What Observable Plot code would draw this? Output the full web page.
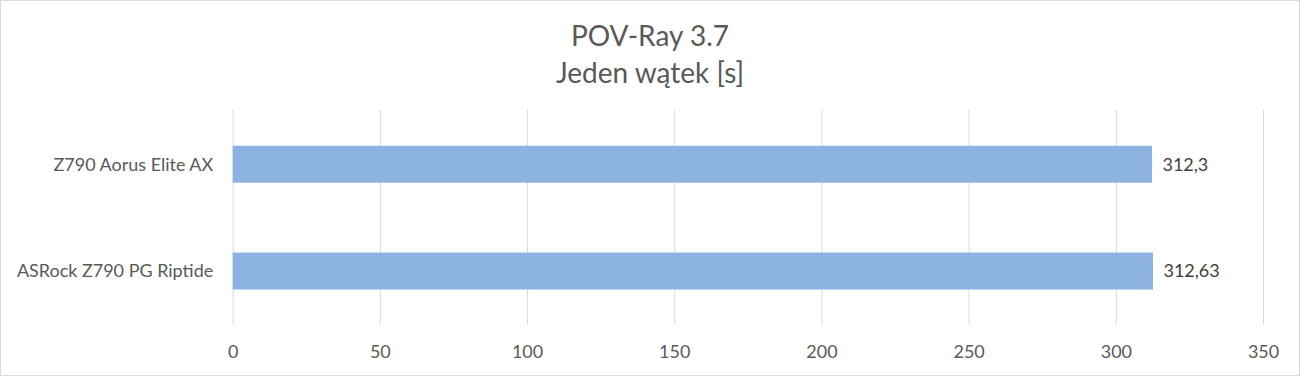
<!DOCTYPE html>
<html>
<head>
<meta charset="utf-8">
<script src="https://cdn.jsdelivr.net/npm/d3@7"></script>
<script src="https://cdn.jsdelivr.net/npm/@observablehq/plot@0.6"></script>
<style>
  html, body { margin: 0; padding: 0; background: #fff; }
  #chart { position: relative; width: 1300px; height: 376px; box-sizing: border-box; border: 1px solid #d9d9d9; overflow: hidden; font-family: Lato, "Noto Sans", sans-serif; }
  .t { position: absolute; left: 0; width: 1298px; text-align: center; color: #595959; font-size: 28px; line-height: 1; }
  svg { position: absolute; left: -1px; top: -1px; }
</style>
</head>
<body>
<div id="chart">
  <div class="t" style="top:20px">POV-Ray 3.7</div>
  <div class="t" style="top:57px">Jeden wątek [s]</div>
</div>
<script>
const boards = ["Z790 Aorus Elite AX", "ASRock Z790 PG Riptide"];
const times = [312.3, 312.63];
const xTicks = [0, 50, 100, 150, 200, 250, 300, 350];

const data = boards.map((b, i) => ({board: b, time: times[i]}));
const fmt = v => String(v).replace(".", ",");

const plot = Plot.plot({
  width: 1300,
  height: 376,
  marginTop: 110,
  marginBottom: 51,
  marginLeft: 233,
  marginRight: 35,
  style: {fontFamily: "Lato, 'Noto Sans', sans-serif", fontSize: "18px", color: "#595959", background: "transparent"},
  x: {domain: [0, 350], ticks: xTicks, tickSize: 0, tickPadding: 20, label: null},
  y: {domain: boards, paddingInner: 0.655, paddingOuter: 0.3275, tickSize: 0, tickPadding: 20, label: null},
  marks: [
    Plot.gridX(xTicks, {stroke: "#d9d9d9", strokeOpacity: 1, strokeWidth: 1}),
    Plot.barX(data, {x: "time", y: "board", fill: "#8db3e2"}),
    Plot.text(data, {x: "time", y: "board", text: d => fmt(d.time), textAnchor: "start", dx: 10, fill: "#404040", fontSize: 18})
  ]
});
document.getElementById("chart").appendChild(plot);
</script>
</body>
</html>
